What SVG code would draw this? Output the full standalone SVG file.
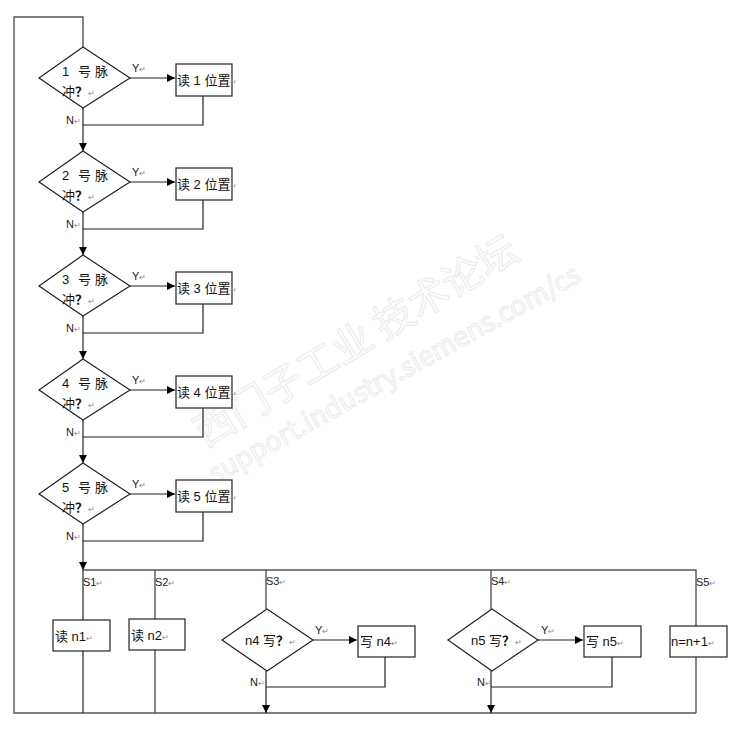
<svg xmlns="http://www.w3.org/2000/svg" width="742" height="739" viewBox="0 0 742 739">
<defs>
<marker id="ah" viewBox="0 0 10 10" refX="10" refY="5" markerWidth="8" markerHeight="8" markerUnits="userSpaceOnUse" orient="auto"><path d="M0,0 L10,5 L0,10 z" fill="#000"/></marker>
<style>
.ln{fill:none;stroke:#222;stroke-width:1.2}
.gl{fill:none;stroke:#555;stroke-width:1.4}
.ar{marker-end:url(#ah)}
.sh{fill:#fff;stroke:#222;stroke-width:1.2}
.t{font-family:"Liberation Sans","Noto Sans CJK SC",sans-serif;font-size:13px;fill:#111}
.s{font-family:"Liberation Sans",sans-serif;font-size:11px;fill:#222}
.m{font-size:8px;fill:#888}
.wm{font-family:"Noto Sans CJK SC",sans-serif;fill:none;stroke:#ebebeb;stroke-width:1}
</style>
</defs>
<rect width="742" height="739" fill="#fff"/>
<g id="watermark">
<text class="wm" font-size="40" transform="translate(205,448) rotate(-31)">西门子工业  技术论坛</text>
<text class="wm" font-size="27" font-family="Liberation Sans" transform="translate(215,484) rotate(-29)">support.industry.siemens.com/cs</text>
</g>
<g id="connectors">
<path class="gl" d="M83,47 V17 H14 V713 H696"/>
<path class="ln ar" d="M130,78 H175"/>
<path class="ln ar" d="M130,182 H175"/>
<path class="ln ar" d="M130,286 H175"/>
<path class="ln ar" d="M130,390 H175"/>
<path class="ln ar" d="M130,494 H175"/>
<path class="ln" d="M203,96 V125 H83"/>
<path class="ln" d="M203,200 V229 H83"/>
<path class="ln" d="M203,304 V333 H83"/>
<path class="ln" d="M203,408 V437 H83"/>
<path class="ln" d="M203,512 V541 H83"/>
<path class="ln ar" d="M83,108 V151"/>
<path class="ln ar" d="M83,212 V255"/>
<path class="ln ar" d="M83,316 V359"/>
<path class="ln ar" d="M83,420 V463"/>
<path class="ln ar" d="M83,524 V570"/>
<path class="gl" d="M83,570 H696 V626"/>
<path class="ln" d="M83,570 V620"/>
<path class="ln" d="M83,651 V713"/>
<path class="gl" d="M155,570 V619"/>
<path class="gl" d="M155,650 V713"/>
<path class="gl" d="M266,570 V609"/>
<path class="gl" d="M491,570 V609"/>
<path class="gl" d="M696,657 V713"/>
<path class="ln ar" d="M313,640 H357"/>
<path class="ln ar" d="M538,640 H583"/>
<path class="ln" d="M385,657 V687 H266"/>
<path class="ln" d="M612,657 V687 H491"/>
<path class="ln ar" d="M266,671 V713"/>
<path class="ln ar" d="M491,671 V713"/>
</g>
<g id="labels">
<text class="s" x="132" y="72">Y<tspan class="m">↵</tspan></text>
<text class="s" x="132" y="176">Y<tspan class="m">↵</tspan></text>
<text class="s" x="132" y="280">Y<tspan class="m">↵</tspan></text>
<text class="s" x="132" y="384">Y<tspan class="m">↵</tspan></text>
<text class="s" x="132" y="488">Y<tspan class="m">↵</tspan></text>
<text class="s" x="66" y="124">N<tspan class="m">↵</tspan></text>
<text class="s" x="66" y="228">N<tspan class="m">↵</tspan></text>
<text class="s" x="66" y="332">N<tspan class="m">↵</tspan></text>
<text class="s" x="66" y="436">N<tspan class="m">↵</tspan></text>
<text class="s" x="66" y="540">N<tspan class="m">↵</tspan></text>
<text class="s" x="83" y="586">S1<tspan class="m">↵</tspan></text>
<text class="s" x="155" y="586">S2<tspan class="m">↵</tspan></text>
<text class="s" x="266" y="585">S3<tspan class="m">↵</tspan></text>
<text class="s" x="491" y="585">S4<tspan class="m">↵</tspan></text>
<text class="s" x="696" y="586">S5<tspan class="m">↵</tspan></text>
<text class="s" x="315" y="634">Y<tspan class="m">↵</tspan></text>
<text class="s" x="541" y="634">Y<tspan class="m">↵</tspan></text>
<text class="s" x="250" y="686">N<tspan class="m">↵</tspan></text>
<text class="s" x="477" y="686">N<tspan class="m">↵</tspan></text>
</g>
<g id="d1"><path class="sh" d="M83,47 L130,78 L83,108 L39,78 Z"/><text class="t" y="76"><tspan x="62">1</tspan><tspan x="78">号</tspan><tspan x="95">脉</tspan></text><text class="t" x="62" y="96">冲<tspan font-weight="bold">？</tspan><tspan class="m">↵</tspan></text></g>
<g id="b1"><rect class="sh" x="176" y="64" width="56" height="32"/><text class="t" x="177" y="85">读 1 位置<tspan class="m">↵</tspan></text></g>
<g id="d2"><path class="sh" d="M83,151 L130,182 L83,212 L39,182 Z"/><text class="t" y="180"><tspan x="62">2</tspan><tspan x="78">号</tspan><tspan x="95">脉</tspan></text><text class="t" x="62" y="200">冲<tspan font-weight="bold">？</tspan><tspan class="m">↵</tspan></text></g>
<g id="b2"><rect class="sh" x="176" y="168" width="56" height="32"/><text class="t" x="177" y="189">读 2 位置<tspan class="m">↵</tspan></text></g>
<g id="d3"><path class="sh" d="M83,255 L130,286 L83,316 L39,286 Z"/><text class="t" y="284"><tspan x="62">3</tspan><tspan x="78">号</tspan><tspan x="95">脉</tspan></text><text class="t" x="62" y="304">冲<tspan font-weight="bold">？</tspan><tspan class="m">↵</tspan></text></g>
<g id="b3"><rect class="sh" x="176" y="272" width="56" height="32"/><text class="t" x="177" y="293">读 3 位置<tspan class="m">↵</tspan></text></g>
<g id="d4"><path class="sh" d="M83,359 L130,390 L83,420 L39,390 Z"/><text class="t" y="388"><tspan x="62">4</tspan><tspan x="78">号</tspan><tspan x="95">脉</tspan></text><text class="t" x="62" y="408">冲<tspan font-weight="bold">？</tspan><tspan class="m">↵</tspan></text></g>
<g id="b4"><rect class="sh" x="176" y="376" width="56" height="32"/><text class="t" x="177" y="397">读 4 位置<tspan class="m">↵</tspan></text></g>
<g id="d5"><path class="sh" d="M83,463 L130,494 L83,524 L39,494 Z"/><text class="t" y="492"><tspan x="62">5</tspan><tspan x="78">号</tspan><tspan x="95">脉</tspan></text><text class="t" x="62" y="512">冲<tspan font-weight="bold">？</tspan><tspan class="m">↵</tspan></text></g>
<g id="b5"><rect class="sh" x="176" y="480" width="56" height="32"/><text class="t" x="177" y="501">读 5 位置<tspan class="m">↵</tspan></text></g>
<g id="bn1"><rect class="sh" x="53" y="620" width="57" height="31"/><text class="t" x="55" y="641">读 n1<tspan class="m">↵</tspan></text></g>
<g id="bn2"><rect class="sh" x="129" y="619" width="56" height="31"/><text class="t" x="131" y="640">读 n2<tspan class="m">↵</tspan></text></g>
<g id="dn4"><path class="sh" d="M267,609 L313,640 L267,671 L222,640 Z"/><text class="t" x="245" y="645">n4 写<tspan font-weight="bold">？</tspan><tspan class="m">↵</tspan></text></g>
<g id="bw4"><rect class="sh" x="358" y="626" width="57" height="31"/><text class="t" x="360" y="646">写 n4<tspan class="m">↵</tspan></text></g>
<g id="dn5"><path class="sh" d="M492,609 L538,640 L492,671 L448,640 Z"/><text class="t" x="471" y="645">n5 写<tspan font-weight="bold">？</tspan><tspan class="m">↵</tspan></text></g>
<g id="bw5"><rect class="sh" x="584" y="626" width="57" height="31"/><text class="t" x="586" y="646">写 n5<tspan class="m">↵</tspan></text></g>
<g id="binc"><rect class="sh" x="670" y="626" width="57" height="31"/><text class="t" x="671" y="646">n=n+1<tspan class="m">↵</tspan></text></g>
</svg>
